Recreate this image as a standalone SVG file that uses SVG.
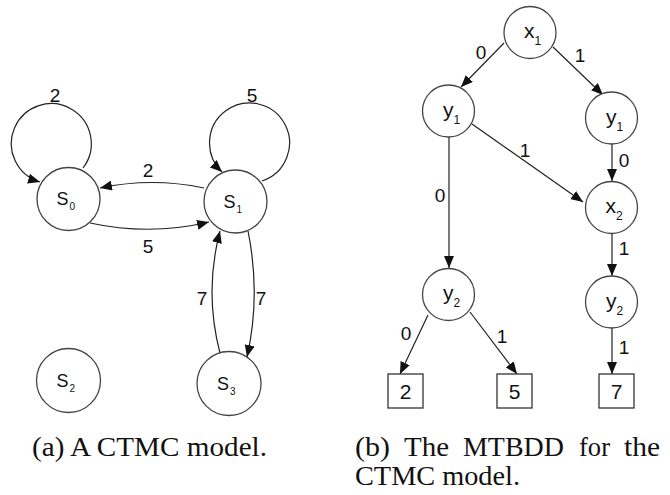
<svg xmlns="http://www.w3.org/2000/svg" width="670" height="495" viewBox="0 0 670 495">
<defs>
<marker id="arr" viewBox="0 0 12 10" refX="12" refY="5" markerWidth="12" markerHeight="10" markerUnits="userSpaceOnUse" orient="auto">
<path d="M0,0 L12,5 L0,10 Z" fill="#111"/>
</marker>
<style>
.node{fill:#fff;stroke:#444;stroke-width:1.3}
.box{fill:#fff;stroke:#333;stroke-width:1.3}
.edge{fill:none;stroke:#222;stroke-width:1.2;marker-end:url(#arr)}
.lbl{font-family:"Liberation Sans",Arial,sans-serif;fill:#111}
.el{font-family:"Liberation Sans",Arial,sans-serif;font-size:19px;fill:#111;text-anchor:middle}
.cap{font-family:"Liberation Serif","Times New Roman",serif;font-size:27px;fill:#111}
</style>
</defs>
<rect width="670" height="495" fill="#fff"/>
<g id="connectors">
<path class="edge" d="M83,168 A40,40 0 1 0 40,182"/>
<path class="edge" d="M262,181 A40,40 0 1 0 222,172"/>
<path class="edge" d="M204,188 Q152,177 100,188"/>
<path class="edge" d="M90,223 Q150,236 209,222"/>
<path class="edge" d="M248,231 Q261,295 247,357"/>
<path class="edge" d="M220,353 Q204,292 220,231"/>
<path class="edge" d="M504,43 L461,87"/>
<path class="edge" d="M553,47 L603,95"/>
<path class="edge" d="M472,124 L583,202"/>
<path class="edge" d="M612,144 L612,181"/>
<path class="edge" d="M449,137 L449,268"/>
<path class="edge" d="M612,233 L612,276"/>
<path class="edge" d="M428,315 L400,374"/>
<path class="edge" d="M470,312 L517,374"/>
<path class="edge" d="M612,328 L612,374"/>
<text class="el" x="55" y="102">2</text>
<text class="el" x="252" y="102">5</text>
<text class="el" x="148" y="177">2</text>
<text class="el" x="148" y="253">5</text>
<text class="el" x="202" y="305">7</text>
<text class="el" x="261" y="305">7</text>
<text class="el" x="481" y="59">0</text>
<text class="el" x="580" y="62">1</text>
<text class="el" x="525" y="157">1</text>
<text class="el" x="624" y="167">0</text>
<text class="el" x="440" y="202">0</text>
<text class="el" x="624" y="255">1</text>
<text class="el" x="406" y="340">0</text>
<text class="el" x="502" y="343">1</text>
<text class="el" x="624" y="354">1</text>
</g>
<g id="S0"><circle class="node" cx="68.5" cy="199" r="31.5"/><text class="lbl" x="56.5" y="205" font-size="18">S<tspan dx="1" dy="5" font-size="10">0</tspan></text></g>
<g id="S1"><circle class="node" cx="235.5" cy="201.5" r="31.5"/><text class="lbl" x="223.5" y="207.5" font-size="18">S<tspan dx="1" dy="5" font-size="10">1</tspan></text></g>
<g id="S2"><circle class="node" cx="68.5" cy="380.5" r="32"/><text class="lbl" x="56.5" y="386.5" font-size="18">S<tspan dx="1" dy="5" font-size="10">2</tspan></text></g>
<g id="S3"><circle class="node" cx="229" cy="383.5" r="32"/><text class="lbl" x="217" y="389.5" font-size="18">S<tspan dx="1" dy="5" font-size="10">3</tspan></text></g>
<g id="x1"><circle class="node" cx="530" cy="32.5" r="26"/><text class="lbl" x="524" y="38" font-size="21">x<tspan dy="7" font-size="12">1</tspan></text></g>
<g id="y1a"><circle class="node" cx="448.5" cy="111" r="26"/><text class="lbl" x="443" y="116.5" font-size="21">y<tspan dy="7" font-size="12">1</tspan></text></g>
<g id="y1b"><circle class="node" cx="611.5" cy="118" r="26"/><text class="lbl" x="606" y="123.5" font-size="21">y<tspan dy="7" font-size="12">1</tspan></text></g>
<g id="x2"><circle class="node" cx="611.5" cy="207.5" r="26"/><text class="lbl" x="605.5" y="213" font-size="21">x<tspan dy="7" font-size="12">2</tspan></text></g>
<g id="y2a"><circle class="node" cx="448.5" cy="294.5" r="26"/><text class="lbl" x="443" y="300" font-size="21">y<tspan dy="7" font-size="12">2</tspan></text></g>
<g id="y2b"><circle class="node" cx="611.5" cy="302" r="26"/><text class="lbl" x="606" y="307.5" font-size="21">y<tspan dy="7" font-size="12">2</tspan></text></g>
<g id="t2"><rect class="box" x="388" y="374" width="35" height="34"/><text class="lbl" x="405.5" y="399" font-size="21" text-anchor="middle">2</text></g>
<g id="t5"><rect class="box" x="497" y="374" width="35" height="34"/><text class="lbl" x="514.5" y="399" font-size="21" text-anchor="middle">5</text></g>
<g id="t7"><rect class="box" x="599" y="374" width="35" height="34"/><text class="lbl" x="616.5" y="399" font-size="21" text-anchor="middle">7</text></g>
<g id="captions">
<text class="cap" x="32" y="456" textLength="235" lengthAdjust="spacingAndGlyphs">(a) A CTMC model.</text>
<text class="cap" y="456"><tspan x="355" textLength="35" lengthAdjust="spacingAndGlyphs">(b)</tspan><tspan x="404" textLength="45" lengthAdjust="spacingAndGlyphs">The</tspan><tspan x="463" textLength="101" lengthAdjust="spacingAndGlyphs">MTBDD</tspan><tspan x="579" textLength="31" lengthAdjust="spacingAndGlyphs">for</tspan><tspan x="624" textLength="36" lengthAdjust="spacingAndGlyphs">the</tspan></text>
<text class="cap" x="355" y="485" textLength="165" lengthAdjust="spacingAndGlyphs">CTMC model.</text>
</g>
</svg>
